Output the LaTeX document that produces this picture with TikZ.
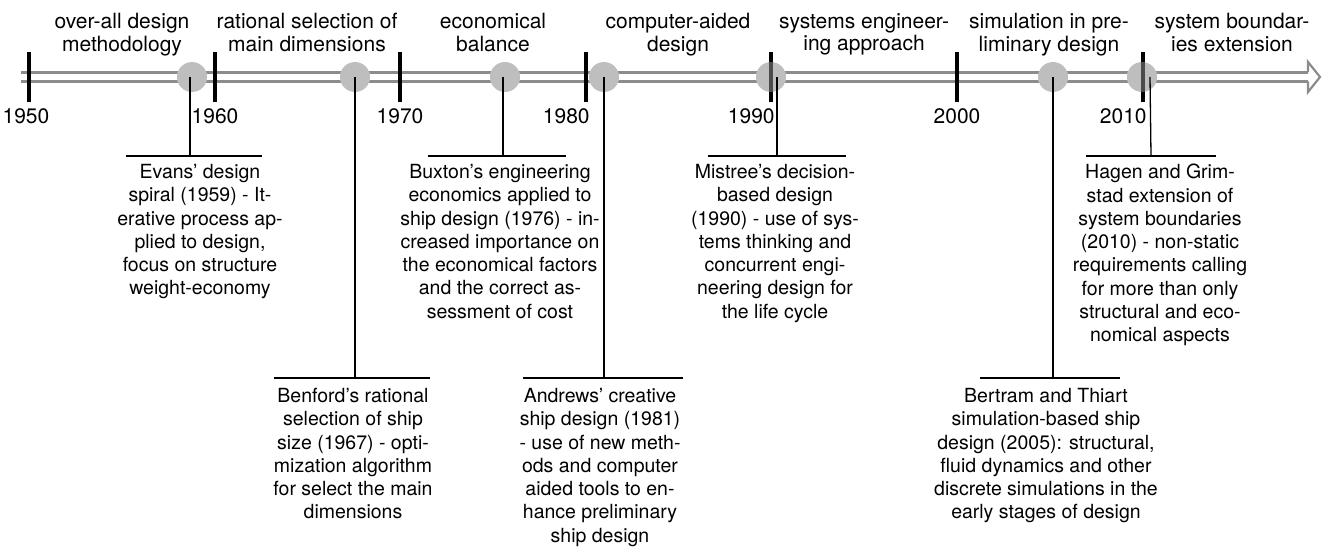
\documentclass[tikz,border=0pt]{standalone}
\usepackage{fontspec}
\setmainfont{TeX Gyre Heros}
\usetikzlibrary{positioning,backgrounds}
\definecolor{AxisGray}{RGB}{140,140,140}
\definecolor{DotGray}{RGB}{137,137,137}

\begin{document}
\begin{tikzpicture}[x=1pt, y=-1pt,
  dot/.style={circle, fill=DotGray, fill opacity=0.55, inner sep=0pt, minimum size=30pt},
  tick/.style={fill=black, inner sep=0pt, minimum width=4pt, minimum height=50pt},
  yr/.style={inner sep=0pt, font=\fontsize{21}{24}\selectfont},
  ttl/.style={align=center, inner sep=0pt, anchor=north, font=\fontsize{21}{22.5}\selectfont},
  txt/.style={align=center, inner sep=0pt, anchor=north, font=\fontsize{19.5}{23.3}\selectfont},
  bar/.style={inner sep=0pt, minimum height=0pt, minimum width=#1}]
\useasboundingbox (0,0) rectangle (1325,548);

% decade ticks
\node[tick] (t1950) at (29,77) {};
\node[tick] (t1960) at (215,77) {};
\node[tick] (t1970) at (400,77) {};
\node[tick] (t1980) at (586,77) {};
\node[tick] (t1990) at (771,77) {};
\node[tick] (t2000) at (957,77) {};
\node[tick] (t2010) at (1143,77) {};

\node[yr, below=6pt of t1950, xshift=-3pt] (y1950) {1950};
\node[yr, below=6pt of t1960] (y1960) {1960};
\node[yr, below=6pt of t1970] (y1970) {1970};
\node[yr, below left=6pt and -6pt of t1980] (y1980) {1980};
\node[yr, below left=6pt and -6pt of t1990] (y1990) {1990};
\node[yr, below=6pt of t2000] (y2000) {2000};
\node[yr, below left=6pt and -6pt of t2010] (y2010) {2010};

% periods
\node[ttl] (p1) at (122,13) {over-all design\\methodology};
\node[ttl] (p2) at (307,13) {rational selection of\\main dimensions};
\node[ttl] (p3) at (493,13) {economical\\balance};
\node[ttl] (p4) at (678,13) {computer-aided\\design};
\node[ttl] (p5) at (864,13) {systems engineer-\\ing approach};
\node[ttl] (p6) at (1049,13) {simulation in pre-\\liminary design};
\node[ttl] (p7) at (1232,13) {system boundar-\\ies extension};

% milestones
\node[dot] (d59) at (192,77) {};
\node[dot] (d67) at (355,77) {};
\node[dot] (d76) at (505,77) {};
\node[dot] (d81) at (604,77) {};
\node[dot] (d90) at (771,77) {};
\node[dot] (d05) at (1053,77) {};
\node[dot] (d10) at (1142,77) {};

\begin{pgfonlayer}{background}
\draw[AxisGray, line width=2.2pt] (21,72.5) -- (1308,72.5);
\draw[AxisGray, line width=2.2pt] (21,81.5) -- (1308,81.5);
\draw[AxisGray, line width=2.2pt, line join=miter] (1308,72.5) -- (1308,62) -- (1320,77) -- (1308,92) -- (1308,81.5);
\foreach \d in {d59,d67,d76,d81,d90,d05,d10}
  \fill[white] (\d.center) circle (15);
\end{pgfonlayer}

\node[bar=136pt] (b59) at (194,156) {};
\node[bar=155pt] (b67) at (352,378) {};
\node[bar=137pt] (b76) at (497,156) {};
\node[bar=160pt] (b81) at (603,378) {};
\node[bar=138pt] (b90) at (777,156) {};
\node[bar=140pt] (b05) at (1050,378) {};
\node[bar=129pt] (b10) at (1151,156) {};

\node[txt] (e59) at (200,164) {Evans' design\\spiral (1959) - It-\\erative process ap-\\plied to design,\\focus on structure\\weight-economy};
\node[txt] (e67) at (353,388) {Benford's rational\\selection of ship\\size (1967) - opti-\\mization algorithm\\for select the main\\dimensions};
\node[txt] (e76) at (500,164) {Buxton's engineering\\economics applied to\\ship design (1976) - in-\\creased importance on\\the economical factors\\and the correct as-\\sessment of cost};
\node[txt] (e81) at (600,388) {Andrews' creative\\ship design (1981)\\- use of new meth-\\ods and computer\\aided tools to en-\\hance preliminary\\ship design};
\node[txt] (e90) at (775,164) {Mistree's decision-\\based design\\(1990) - use of sys-\\tems thinking and\\concurrent engi-\\neering design for\\the life cycle};
\node[txt] (e05) at (1046,388) {Bertram and Thiart\\simulation-based ship\\design (2005): structural,\\fluid dynamics and other\\discrete simulations in the\\early stages of design};
\node[txt] (e10) at (1160,164) {Hagen and Grim-\\stad extension of\\system boundaries\\(2010) - non-static\\requirements calling\\for more than only\\structural and eco-\\nomical aspects};

\draw[line width=1.3pt] (b59.west) -- (b59.east);
\draw[line width=1.3pt] (b67.west) -- (b67.east);
\draw[line width=1.3pt] (b76.west) -- (b76.east);
\draw[line width=1.3pt] (b81.west) -- (b81.east);
\draw[line width=1.3pt] (b90.west) -- (b90.east);
\draw[line width=1.3pt] (b05.west) -- (b05.east);
\draw[line width=1.3pt] (b10.west) -- (b10.east);

\draw[line width=1.3pt] ([xshift=-2pt]d59.center) -- ([xshift=-2pt]d59.center |- b59);
\draw[line width=1.3pt] (d67.center) -- (d67.center |- b67);
\draw[line width=1.3pt] ([xshift=-2pt]d76.center) -- ([xshift=-2pt]d76.center |- b76);
\draw[line width=1.3pt] (d81.center) -- (d81.center |- b81);
\draw[line width=1.3pt] (b90 |- d90) -- (b90);
\draw[line width=1.3pt] (d05.center) -- (d05.center |- b05);
\draw[line width=1.3pt] ([xshift=-1pt]b10 |- d10) -- ([xshift=-1pt]b10);
\end{tikzpicture}
\end{document}
